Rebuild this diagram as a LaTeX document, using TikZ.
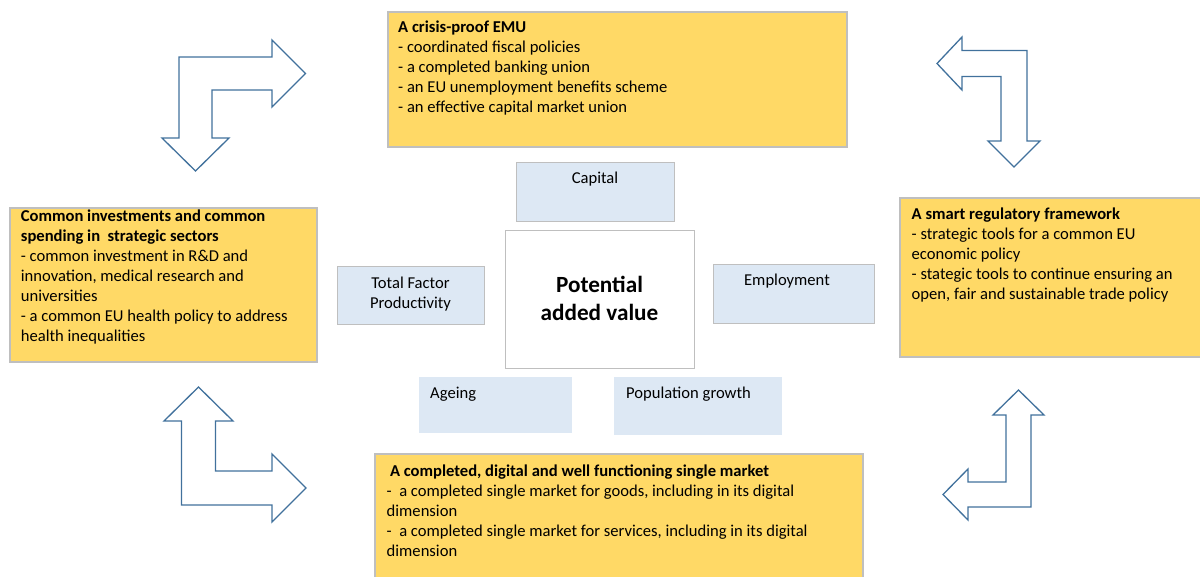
\documentclass[tikz,border=0pt]{standalone}
\usepackage{fontspec}
\setmainfont{Carlito}
\definecolor{gold}{HTML}{FFD966}
\definecolor{paleblue}{HTML}{DDE8F4}
\definecolor{frame}{HTML}{BFBFBF}
\definecolor{arrowblue}{HTML}{41719C}
\newcommand{\bodyfont}{\fontsize{16.6}{20}\selectfont}
\newcommand{\bigfont}{\fontsize{23.2}{28.5}\selectfont\bfseries}

\begin{document}
\begin{tikzpicture}[x=1pt,y=-1pt,
  panel/.style={draw=frame, line width=1.3pt, fill=gold, anchor=north west, inner sep=0pt, outer sep=0pt},
  factor/.style={fill=paleblue, anchor=north west, inner sep=0pt, outer sep=0pt},
  edged/.style={draw=frame, line width=1pt},
  body/.style={anchor=north west, inner sep=0pt, align=left, font=\bodyfont},
  flabel/.style={anchor=base, inner sep=0pt, font=\bodyfont},
  bentarrow/.style={draw=arrowblue, line width=1.3pt, fill=white, line join=miter},
]
\useasboundingbox (0,0) rectangle (1200,576);

% policy panels
\node[panel, minimum width=459pt, minimum height=135pt] (emu) at (388,12) {};
\node[panel, minimum width=307pt, minimum height=154pt] (invest) at (10,208) {};
\node[panel, minimum width=302pt, minimum height=159pt] (regul) at (900,198) {};
\node[panel, minimum width=488pt, minimum height=130pt] (market) at (375,454) {};

\node[body] (emutext) at (398,18) {\strut\textbf{A crisis-proof EMU}\\
- coordinated fiscal policies\\
- a completed banking union\\
- an EU unemployment benefits scheme\\
- an effective capital market union};

\node[body] (investtext) at (20.7,207) {\strut\textbf{Common investments and common}\\
\textbf{spending in\ \ strategic sectors}\\
- common investment in R\&D and\\
innovation, medical research and\\
universities\\
- a common EU health policy to address\\
health inequalities};

\node[body] (regultext) at (911.5,205) {\strut\textbf{A smart regulatory framework}\\
- strategic tools for a common EU\\
economic policy\\
- stategic tools to continue ensuring an\\
open, fair and sustainable trade policy};

\node[body] (markettext) at (386.5,462) {\strut\hspace*{3.3pt}\textbf{A completed, digital and well functioning single market}\\
-\ \ a completed single market for goods, including in its digital\\
dimension\\
-\ \ a completed single market for services, including in its digital\\
dimension};

% growth factors around the centre
\node[factor, edged, minimum width=158pt, minimum height=59pt] (capital) at (516,162) {};
\node[factor, edged, minimum width=147pt, minimum height=58pt] (tfp) at (337,266) {};
\node[factor, edged, minimum width=161pt, minimum height=59pt] (employ) at (713,264) {};
\node[factor, minimum width=153pt, minimum height=56pt] (ageing) at (419,377) {};
\node[factor, minimum width=168pt, minimum height=58pt] (popgrowth) at (614,377) {};
\node[draw=frame, line width=1.3pt, fill=white, anchor=north west, inner sep=0pt,
      minimum width=189pt, minimum height=138pt] (pav) at (505,230) {};

\node[flabel] (capitaltext) at (595,183.3) {Capital};
\node[body, anchor=north, align=center] (tfptext) at (410.5,274.3) {\strut Total Factor\\Productivity};
\node[flabel] (employtext) at (787,285) {Employment};
\node[flabel, anchor=base west] (ageingtext) at (430,398.5) {Ageing};
\node[flabel, anchor=base west] (poptext) at (626,398.5) {Population growth};
\node[anchor=north, inner sep=0pt, align=center, font=\bigfont] (pavtext) at (599.5,272)
  {\strut Potential\\added value};

% bent arrows linking the panels
\draw[bentarrow] (195.5,171) -- (162,138) -- (179,138) -- (179,57) -- (272,57) -- (272,40)
  -- (305.5,73.5) -- (272,107) -- (272,90) -- (212,90) -- (212,138) -- (229,138) -- cycle;
\draw[bentarrow] (937,63.5) -- (962,37) -- (962,50.5) -- (1027,50.5) -- (1027,141) -- (1040,141)
  -- (1014,167) -- (988,141) -- (1001,141) -- (1001,76.5) -- (962,76.5) -- (962,90) -- cycle;
\draw[bentarrow] (198.5,387) -- (233,421) -- (215.5,421) -- (215.5,471) -- (272,471) -- (272,454)
  -- (306,488) -- (272,522) -- (272,505) -- (181.5,505) -- (181.5,421) -- (164,421) -- cycle;
\draw[bentarrow] (1018.5,390) -- (1044,415) -- (1031,415) -- (1031,507) -- (968,507) -- (968,520)
  -- (943,494.5) -- (968,469) -- (968,482) -- (1006,482) -- (1006,415) -- (993,415) -- cycle;
\end{tikzpicture}
\end{document}
